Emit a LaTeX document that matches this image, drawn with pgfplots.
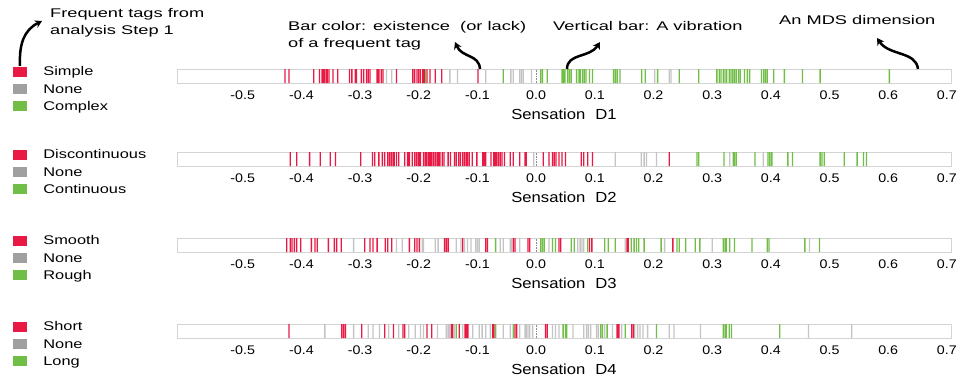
\documentclass[border=0pt]{standalone}
\usepackage{fontspec}
\setmainfont{Liberation Sans}[FakeStretch=1.14]
\newfontfamily\legfont{Liberation Sans}[FakeStretch=1.3]
\usepackage{graphicx}
\usepackage{pgfplots}
\pgfplotsset{compat=1.18}
\usetikzlibrary{arrows.meta}
\definecolor{cred}{RGB}{232,25,68}
\definecolor{cgray}{RGB}{160,160,160}
\definecolor{cbgray}{RGB}{196,196,196}
\definecolor{cgreen}{RGB}{112,190,70}
\pgfplotsset{
  strip/.style={
    scale only axis, width=774pt, height=14pt,
    xmin=-0.612, xmax=0.707, ymin=0, ymax=1,
    ytick=\empty,
    xtick={-0.5,-0.4,-0.3,-0.2,-0.1,0,0.1,0.2,0.3,0.4,0.5,0.6,0.7},
    major tick length=0pt,
    axis line style={draw=black!17, line width=0.8pt},
    x tick label style={font=\fontsize{12.5}{13}\selectfont, inner sep=0pt, anchor=north, yshift=-7.5pt},
    /pgf/number format/fixed, /pgf/number format/fixed zerofill,
    /pgf/number format/precision=1, /pgf/number format/assume math mode=true,
    xlabel style={at={(axis description cs:0.5,0)}, anchor=north, inner sep=0pt, yshift=-26pt, font=\fontsize{14.6}{16}\selectfont},
    legend style={at={(axis description cs:-0.2119,1)}, anchor=north west, yshift=2.5pt,
      draw=none, fill=none, inner sep=0pt, outer sep=0pt, row sep=8pt,
      font=\legfont\fontsize{12.6}{13}\selectfont,
      nodes={inner sep=0pt, text height=9pt, text depth=0pt},
      /tikz/every odd column/.append style={column sep=17pt}},
    legend cell align=left,
    anchor=north west,
  },
  bars/.style={ybar, bar width=1.3pt, bar shift=0pt, draw=none, forget plot},
}
\newcommand\sqimg[1]{\addlegendimage{legend image code/.code={\fill[#1] (0pt,-4.5pt) rectangle (13pt,4.5pt);}}}
\newcommand\zeroline{\draw[black!45, densely dotted, line width=0.6pt] (axis cs:0,0) -- (axis cs:0,1);}
\newcommand\ws[1]{\scalebox{1.27}[1]{#1}}
\begin{document}
\begin{tikzpicture}
\path[use as bounding box] (0pt,0pt) rectangle (956pt,-376pt);

% ---------- D1 ----------
\begin{axis}[strip, at={(177pt,-69pt)}, xlabel={Sensation\hspace{10pt}D1}]
\zeroline
\addplot[bars, fill=cbgray] coordinates {(-0.255,1)(-0.246,1)(-0.147,1)(-0.134,1)(-0.086,1)(-0.043,1)(-0.039,1)(-0.028,1)(-0.025,1)(-0.022,1)(-0.008,1)(0.202,1)(0.227,1)(0.230,1)};
\addplot[bars, fill=cred] coordinates {(-0.428,1)(-0.421,1)(-0.379,1)(-0.369,1)(-0.365,1)(-0.363,1)(-0.361,1)(-0.358,1)(-0.356,1)(-0.353,1)(-0.346,1)(-0.338,1)(-0.318,1)(-0.314,1)(-0.308,1)(-0.306,1)(-0.298,1)(-0.294,1)(-0.289,1)(-0.286,1)(-0.283,1)(-0.271,1)(-0.268,1)(-0.264,1)(-0.261,1)(-0.238,1)(-0.210,1)(-0.207,1)(-0.203,1)(-0.200,1)(-0.197,1)(-0.193,1)(-0.190,1)(-0.186,1)(-0.181,1)(-0.172,1)(-0.161,1)(-0.099,1)};
\addplot[bars, fill=cgreen] coordinates {(-0.188,1)(-0.056,1)(0.008,1)(0.011,1)(0.019,1)(0.044,1)(0.046,1)(0.049,1)(0.054,1)(0.057,1)(0.060,1)(0.069,1)(0.073,1)(0.075,1)(0.079,1)(0.082,1)(0.085,1)(0.091,1)(0.096,1)(0.132,1)(0.135,1)(0.138,1)(0.143,1)(0.180,1)(0.186,1)(0.207,1)(0.244,1)(0.277,1)(0.308,1)(0.312,1)(0.315,1)(0.319,1)(0.322,1)(0.325,1)(0.329,1)(0.332,1)(0.335,1)(0.338,1)(0.341,1)(0.345,1)(0.348,1)(0.355,1)(0.360,1)(0.364,1)(0.384,1)(0.388,1)(0.391,1)(0.394,1)(0.405,1)(0.423,1)(0.454,1)(0.484,1)(0.602,1)};
\sqimg{cred}\addlegendentry{Simple}
\sqimg{cgray}\addlegendentry{None}
\sqimg{cgreen}\addlegendentry{Complex}
\end{axis}

% ---------- D2 ----------
\begin{axis}[strip, at={(177pt,-152pt)}, xlabel={Sensation\hspace{10pt}D2}]
\zeroline
\addplot[bars, fill=cbgray] coordinates {(-0.004,1)(0.135,1)(0.179,1)(0.184,1)(0.188,1)(0.205,1)(0.330,1)(0.387,1)};
\addplot[bars, fill=cred] coordinates {(-0.419,1)(-0.408,1)(-0.386,1)(-0.368,1)(-0.351,1)(-0.342,1)(-0.299,1)(-0.279,1)(-0.275,1)(-0.268,1)(-0.262,1)(-0.258,1)(-0.253,1)(-0.250,1)(-0.247,1)(-0.244,1)(-0.242,1)(-0.238,1)(-0.234,1)(-0.224,1)(-0.219,1)(-0.216,1)(-0.211,1)(-0.207,1)(-0.204,1)(-0.201,1)(-0.199,1)(-0.197,1)(-0.192,1)(-0.189,1)(-0.187,1)(-0.184,1)(-0.182,1)(-0.180,1)(-0.178,1)(-0.175,1)(-0.172,1)(-0.169,1)(-0.167,1)(-0.164,1)(-0.160,1)(-0.157,1)(-0.150,1)(-0.146,1)(-0.139,1)(-0.136,1)(-0.132,1)(-0.129,1)(-0.125,1)(-0.122,1)(-0.119,1)(-0.117,1)(-0.114,1)(-0.109,1)(-0.101,1)(-0.091,1)(-0.089,1)(-0.087,1)(-0.086,1)(-0.077,1)(-0.072,1)(-0.069,1)(-0.067,1)(-0.064,1)(-0.061,1)(-0.058,1)(-0.054,1)(-0.044,1)(-0.039,1)(-0.028,1)(-0.019,1)(-0.017,1)(0.012,1)(0.022,1)(0.028,1)(0.031,1)(0.034,1)(0.039,1)(0.044,1)(0.050,1)(0.077,1)(0.081,1)(0.088,1)(0.096,1)(0.227,1)};
\addplot[bars, fill=cgreen] coordinates {(0.274,1)(0.277,1)(0.320,1)(0.336,1)(0.338,1)(0.341,1)(0.373,1)(0.395,1)(0.398,1)(0.401,1)(0.402,1)(0.429,1)(0.437,1)(0.484,1)(0.487,1)(0.491,1)(0.525,1)(0.547,1)(0.558,1)(0.563,1)};
\sqimg{cred}\addlegendentry{Discontinuous}
\sqimg{cgray}\addlegendentry{None}
\sqimg{cgreen}\addlegendentry{Continuous}
\end{axis}

% ---------- D3 ----------
\begin{axis}[strip, at={(177pt,-238pt)}, xlabel={Sensation\hspace{10pt}D3}]
\zeroline
\addplot[bars, fill=cbgray] coordinates {(-0.311,1)(-0.238,1)(-0.228,1)(-0.194,1)(-0.192,1)(-0.172,1)(-0.167,1)(-0.136,1)(-0.128,1)(-0.122,1)(-0.117,1)(-0.111,1)(-0.103,1)(-0.100,1)(-0.097,1)(-0.061,1)(-0.056,1)(-0.044,1)(-0.042,1)(-0.028,1)(0.022,1)(0.071,1)(0.075,1)(0.078,1)(0.081,1)(0.152,1)(0.219,1)(0.300,1)(0.466,1)};
\addplot[bars, fill=cred] coordinates {(-0.425,1)(-0.419,1)(-0.416,1)(-0.412,1)(-0.408,1)(-0.401,1)(-0.383,1)(-0.377,1)(-0.373,1)(-0.354,1)(-0.344,1)(-0.340,1)(-0.332,1)(-0.292,1)(-0.283,1)(-0.278,1)(-0.271,1)(-0.257,1)(-0.253,1)(-0.246,1)(-0.216,1)(-0.207,1)(-0.203,1)(-0.199,1)(-0.156,1)(-0.153,1)(-0.150,1)(-0.125,1)(-0.086,1)(-0.083,1)(-0.039,1)(-0.036,1)(-0.014,1)(-0.011,1)(0.039,1)(0.042,1)(0.091,1)(0.095,1)(0.155,1)(0.157,1)(0.233,1)};
\addplot[bars, fill=cgreen] coordinates {(-0.069,1)(0.008,1)(0.011,1)(0.014,1)(0.028,1)(0.033,1)(0.060,1)(0.065,1)(0.088,1)(0.117,1)(0.123,1)(0.135,1)(0.162,1)(0.167,1)(0.171,1)(0.175,1)(0.184,1)(0.213,1)(0.240,1)(0.244,1)(0.255,1)(0.271,1)(0.279,1)(0.319,1)(0.322,1)(0.324,1)(0.330,1)(0.338,1)(0.368,1)(0.394,1)(0.397,1)(0.458,1)(0.483,1)};
\sqimg{cred}\addlegendentry{Smooth}
\sqimg{cgray}\addlegendentry{None}
\sqimg{cgreen}\addlegendentry{Rough}
\end{axis}

% ---------- D4 ----------
\begin{axis}[strip, at={(177pt,-324pt)}, xlabel={Sensation\hspace{10pt}D4}]
\zeroline
\addplot[bars, fill=cbgray] coordinates {(-0.360,1)(-0.311,1)(-0.286,1)(-0.278,1)(-0.267,1)(-0.251,1)(-0.234,1)(-0.217,1)(-0.206,1)(-0.197,1)(-0.192,1)(-0.168,1)(-0.153,1)(-0.150,1)(-0.147,1)(-0.139,1)(-0.125,1)(-0.108,1)(-0.097,1)(-0.092,1)(-0.086,1)(-0.078,1)(-0.056,1)(-0.044,1)(-0.028,1)(-0.019,1)(-0.017,1)(-0.014,1)(-0.011,1)(-0.006,1)(0.028,1)(0.033,1)(0.039,1)(0.063,1)(0.081,1)(0.086,1)(0.089,1)(0.093,1)(0.103,1)(0.106,1)(0.117,1)(0.130,1)(0.146,1)(0.168,1)(0.173,1)(0.177,1)(0.182,1)(0.190,1)(0.227,1)(0.235,1)(0.280,1)(0.464,1)(0.538,1)};
\addplot[bars, fill=cred] coordinates {(-0.421,1)(-0.331,1)(-0.328,1)(-0.325,1)(-0.297,1)(-0.258,1)(-0.243,1)(-0.227,1)(-0.224,1)(-0.186,1)(-0.178,1)(-0.144,1)(-0.142,1)(-0.131,1)(-0.121,1)(-0.118,1)(-0.116,1)(-0.074,1)(-0.072,1)(-0.036,1)(-0.033,1)(0.016,1)(0.019,1)(0.138,1)(0.141,1)(0.163,1)(0.166,1)};
\addplot[bars, fill=cgreen] coordinates {(-0.136,1)(-0.069,1)(-0.039,1)(0.046,1)(0.050,1)(0.052,1)(0.110,1)(0.113,1)(0.121,1)(0.152,1)(0.205,1)(0.319,1)(0.322,1)(0.324,1)(0.329,1)(0.333,1)(0.415,1)};
\sqimg{cred}\addlegendentry{Short}
\sqimg{cgray}\addlegendentry{None}
\sqimg{cgreen}\addlegendentry{Long}
\end{axis}

% ---------- annotations ----------
\begin{scope}[font=\fontsize{12.6}{16.5}\selectfont]
\node[anchor=north west, align=left, inner sep=0pt] at (50pt,-8.5pt) {\ws{Frequent tags from}\\\ws{analysis Step 1}};
\node[anchor=north west, align=left, inner sep=0pt] at (288pt,-21.5pt) {\ws{Bar color: existence\hspace{4pt} (or lack)}\\\ws{of a frequent tag}};
\node[anchor=north west, inner sep=0pt] at (553pt,-21.5pt) {\ws{Vertical bar: A vibration}};
\node[anchor=north west, inner sep=0pt] at (779pt,-15.5pt) {\ws{An MDS dimension}};
\end{scope}
\begin{scope}[line width=2.5pt, -{Stealth[length=7pt,width=8pt]}]
\draw (20pt,-66pt) .. controls (19pt,-44pt) and (24pt,-30pt) .. (42pt,-21pt);
\draw (480pt,-69pt) .. controls (479pt,-54pt) and (462pt,-58pt) .. (455pt,-42pt);
\draw (567pt,-69pt) .. controls (567pt,-53pt) and (590pt,-58pt) .. (600pt,-42pt);
\draw (918pt,-69pt) .. controls (916pt,-51pt) and (889pt,-56pt) .. (877pt,-38pt);
\end{scope}
\end{tikzpicture}
\end{document}
